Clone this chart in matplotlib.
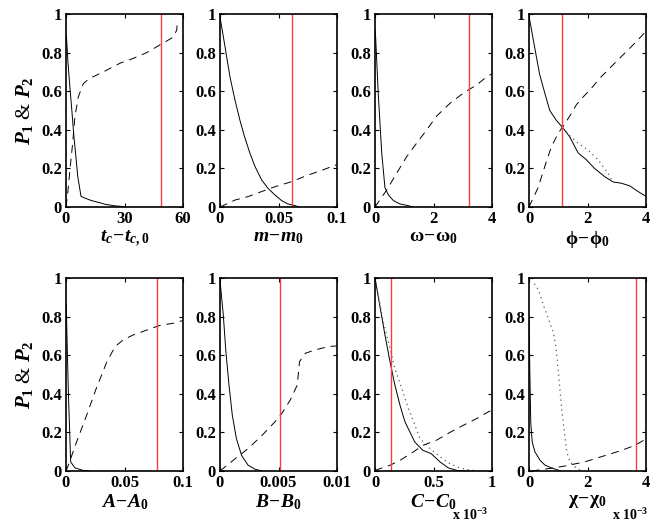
import numpy as np
import matplotlib
matplotlib.use('Agg')
import matplotlib.pyplot as plt

plt.rcParams['font.family'] = 'Liberation Serif'
plt.rcParams['font.weight'] = 'bold'
plt.rcParams['mathtext.fontset'] = 'custom'
plt.rcParams['mathtext.rm'] = 'Liberation Serif:bold'
plt.rcParams['mathtext.it'] = 'Liberation Serif:bold:italic'
plt.rcParams['mathtext.bf'] = 'Liberation Serif:bold'

# t_c - t_c,0
tc_x1 = [0.2, 1, 2, 3, 4, 5, 6, 7.7, 10, 12.3, 15, 17.4, 20, 22.6, 25, 27.7, 31]
tc_y1 = [0.89, 0.75, 0.62, 0.5, 0.37, 0.27, 0.16, 0.055, 0.045, 0.036, 0.028, 0.022, 0.014, 0.01, 0.006, 0.004, 0.0]
tc_x3 = [0, 0.7, 2, 3.4, 4.6, 6.3, 8.9, 12.3, 19.1, 27.7, 34.5, 41.4, 48.2, 55, 56.8, 57.1]
tc_y3 = [0, 0.054, 0.19, 0.33, 0.47, 0.57, 0.64, 0.667, 0.7, 0.745, 0.77, 0.8, 0.84, 0.88, 0.917, 0.97]
tc_red = 48.6

# m - m0
m_x1 = [0, 0.0043, 0.0085, 0.0128, 0.017, 0.021, 0.0256, 0.03, 0.0356, 0.041, 0.047, 0.0527, 0.058, 0.064, 0.068]
m_y1 = [0.985, 0.83, 0.675, 0.554, 0.45, 0.364, 0.278, 0.209, 0.14, 0.097, 0.062, 0.033, 0.016, 0.007, 0.0]
m_x3 = [0, 0.0128, 0.024, 0.0356, 0.047, 0.061, 0.0755, 0.087, 0.1]
m_y3 = [0, 0.036, 0.054, 0.08, 0.105, 0.131, 0.166, 0.19, 0.22]
m_red = 0.0618

# omega - omega0
w_x1 = [0.0, 0.02, 0.11, 0.23, 0.34, 0.46, 0.63, 0.85, 1.14, 1.3]
w_y1 = [0.92, 0.885, 0.59, 0.28, 0.1, 0.062, 0.033, 0.016, 0.007, 0.0]
w_x3 = [0, 0.4, 0.74, 1.08, 1.42, 1.77, 2.1, 2.56, 3.02, 3.47, 3.82, 4.0]
w_y3 = [0, 0.088, 0.175, 0.26, 0.33, 0.4, 0.47, 0.537, 0.59, 0.632, 0.675, 0.69]
w_red = 3.2

# phi - phi0
f_x1 = [0, 0.19, 0.36, 0.54, 0.71, 0.93, 1.16, 1.39, 1.68, 1.96, 2.24, 2.59, 2.87, 3.16, 3.44, 3.73, 4.0]
f_y1 = [0.99, 0.83, 0.69, 0.59, 0.5, 0.45, 0.41, 0.364, 0.28, 0.245, 0.2, 0.157, 0.13, 0.123, 0.11, 0.08, 0.055]
f_x2 = [1.16, 1.39, 1.68, 2.02, 2.36, 2.7, 2.87]
f_y2 = [0.41, 0.37, 0.33, 0.295, 0.245, 0.175, 0.13]
f_x3 = [0, 0.31, 0.54, 0.76, 0.99, 1.22, 1.45, 1.62, 1.85, 2.13, 2.47, 2.81, 3.16, 3.56, 4.0]
f_y3 = [0, 0.1, 0.21, 0.31, 0.38, 0.43, 0.485, 0.53, 0.57, 0.615, 0.675, 0.727, 0.78, 0.84, 0.91]
f_red = 1.13

# A - A0
a_x1 = [0.0003, 0.0006, 0.002, 0.004, 0.0077, 0.0148, 0.02]
a_y1 = [0.86, 0.757, 0.41, 0.047, 0.016, 0.003, 0.0]
a_x3 = [0, 0.002, 0.009, 0.0177, 0.026, 0.035, 0.042, 0.049, 0.0575, 0.069, 0.08, 0.092, 0.1]
a_y3 = [0, 0.03, 0.15, 0.29, 0.43, 0.567, 0.645, 0.68, 0.705, 0.73, 0.754, 0.766, 0.78]
a_red = 0.078

# B - B0
b_x1 = [0, 0.00006, 0.00028, 0.0005, 0.00077, 0.00105, 0.0014, 0.00185, 0.0024, 0.003, 0.0036]
b_y1 = [1.0, 0.95, 0.81, 0.62, 0.445, 0.29, 0.168, 0.08, 0.03, 0.009, 0.0]
b_x3 = [0, 0.0013, 0.0024, 0.0036, 0.0047, 0.0053, 0.006, 0.0066, 0.0068, 0.0073, 0.0081, 0.0093, 0.01]
b_y3 = [0, 0.064, 0.116, 0.185, 0.255, 0.3, 0.367, 0.445, 0.567, 0.61, 0.627, 0.645, 0.648]
b_red = 0.00516

# C - C0 (x 10^-3)
c_x1 = [0, 0.043, 0.085, 0.128, 0.17, 0.214, 0.256, 0.3, 0.34, 0.41, 0.48, 0.556, 0.627, 0.7, 0.81]
c_y1 = [1.0, 0.85, 0.705, 0.567, 0.445, 0.34, 0.255, 0.2, 0.15, 0.107, 0.09, 0.047, 0.016, 0.003, 0.0]
c_x2 = [0, 0.07, 0.128, 0.17, 0.228, 0.285, 0.33, 0.385, 0.47, 0.556, 0.64, 0.726, 0.81, 0.9]
c_y2 = [1.0, 0.775, 0.636, 0.53, 0.43, 0.324, 0.255, 0.168, 0.116, 0.073, 0.038, 0.016, 0.005, 0.0]
c_x3 = [0, 0.128, 0.214, 0.33, 0.41, 0.527, 0.64, 0.755, 0.87, 0.97, 1.0]
c_y3 = [0.003, 0.03, 0.055, 0.1, 0.133, 0.16, 0.2, 0.237, 0.272, 0.307, 0.315]
c_red = 0.134

# chi - chi0 (x 10^-3)
x_x1 = [0.0, 0.03, 0.06, 0.11, 0.2, 0.38, 0.55, 0.77, 0.95, 1.1]
x_y1 = [0.8, 0.5, 0.25, 0.15, 0.1, 0.055, 0.03, 0.016, 0.007, 0.0]
x_x2 = [0.18, 0.32, 0.49, 0.66, 0.83, 0.91, 0.97, 1.04, 1.12, 1.21, 1.29, 1.4, 1.63, 1.8]
x_y2 = [0.97, 0.94, 0.86, 0.79, 0.72, 0.65, 0.57, 0.45, 0.32, 0.2, 0.1, 0.047, 0.012, 0.003]
x_x3 = [0.09, 0.55, 0.89, 1.23, 1.9, 2.6, 3.17, 3.62, 3.97, 4.0]
x_y3 = [0, 0.01, 0.017, 0.026, 0.047, 0.08, 0.107, 0.133, 0.163, 0.165]
x_red = 3.65

xlabels = [r'$t_c\!-\!t_{c,0}$', r'$m\!-\!m_0$', r'$\mathrm{\omega\!-\!\omega_0}$', r'$\mathrm{\phi\!-\!\phi_0}$',
           r'$A\!-\!A_0$', r'$B\!-\!B_0$', r'$C\!-\!C_0$', r'$\mathrm{\chi\!-\!\chi_0}$']
xticks = [[0, 30, 60], [0, 0.05, 0.1], [0, 2, 4], [0, 2, 4],
          [0, 0.05, 0.1], [0, 0.005, 0.01], [0, 0.5, 1], [0, 2, 4]]
xticklabels = [['0', '30', '60'], ['0', '0.05', '0.1'], ['0', '2', '4'], ['0', '2', '4'],
               ['0', '0.05', '0.1'], ['0', '0.005', '0.01'], ['0', '0.5', '1'], ['0', '2', '4']]

solids = [(tc_x1, tc_y1), (m_x1, m_y1), (w_x1, w_y1), (f_x1, f_y1),
          (a_x1, a_y1), (b_x1, b_y1), (c_x1, c_y1), (x_x1, x_y1)]
dotted = [None, None, None, (f_x2, f_y2), None, None, (c_x2, c_y2), (x_x2, x_y2)]
dashed = [(tc_x3, tc_y3), (m_x3, m_y3), (w_x3, w_y3), (f_x3, f_y3),
          (a_x3, a_y3), (b_x3, b_y3), (c_x3, c_y3), (x_x3, x_y3)]
reds = [tc_red, m_red, w_red, f_red, a_red, b_red, c_red, x_red]

fig = plt.figure(figsize=(6.54, 5.26), dpi=100)

lefts = [66, 220, 375, 529]
bottoms = [207, 471]
for i in range(8):
    row, col = i // 4, i % 4
    ax = fig.add_axes([lefts[col] / 654, 1 - bottoms[row] / 526, 117 / 654, 193 / 526])
    sx, sy = solids[i]
    ax.plot(sx, sy, color='black', lw=0.7)
    if dotted[i] is not None:
        ax.plot(dotted[i][0], dotted[i][1], color='0.35', lw=0.9, ls=(0, (1, 3)))
    ax.plot(dashed[i][0], dashed[i][1], color='black', lw=0.7, ls=(0, (8, 6)))
    ax.axvline(reds[i], color='#ff3b3b', lw=1.0)

    ax.set_xlim(xticks[i][0], xticks[i][-1])
    ax.set_ylim(0, 1)
    ax.set_xticks(xticks[i])
    ax.set_xticklabels(xticklabels[i])
    ax.set_yticks([0, 0.2, 0.4, 0.6, 0.8, 1])
    ax.set_yticklabels(['0', '0.2', '0.4', '0.6', '0.8', '1'])
    ax.tick_params(direction='in', top=True, right=True, length=3, width=0.8,
                   labelsize=12, pad=3)
    for s in ax.spines.values():
        s.set_linewidth(1.2)
    ax.set_xlabel(xlabels[i], fontsize=14, labelpad=1)
    if col == 0:
        ax.set_ylabel(r'$P_1$ & $P_2$', fontsize=15, labelpad=4)
    if i == 6:
        ax.text(0.66, -0.23, r'x 10$^{-3}$', transform=ax.transAxes, fontsize=10,
                ha='left', va='center')
    if i == 7:
        ax.text(0.71, -0.23, r'x 10$^{-3}$', transform=ax.transAxes, fontsize=10,
                ha='left', va='center')

fig.savefig('out.png', dpi=100)
